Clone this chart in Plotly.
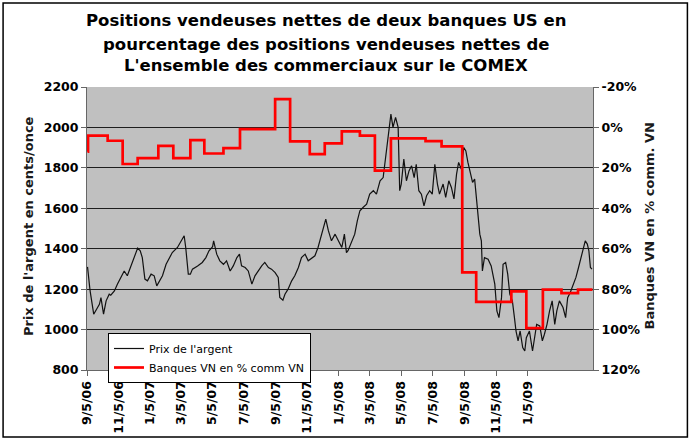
import pandas as pd
import plotly.graph_objects as go

# ---- data (days since 5 Sep 2006) ----
START = "2006-09-05"
price_days = [1, 6, 13, 17, 24, 27, 32, 37, 43, 46, 53, 59, 66, 72, 78, 85, 91, 98, 103, 107,
              112, 117, 124, 130, 135, 140, 146, 153, 159, 165, 175, 183, 188, 191, 196, 200,
              204, 214, 223, 230, 236, 243, 245, 251, 257, 264, 270, 277, 283, 290, 295, 299,
              306, 312, 319, 325, 331, 338, 344, 351, 357, 364, 370, 373, 379, 383, 389, 396,
              402, 409, 415, 422, 428, 435, 441, 447, 452, 458, 462, 467, 473, 480, 486, 493,
              498, 502, 505, 512, 518, 523, 528, 534, 541, 547, 554, 560, 567, 573, 579, 584,
              588, 592, 597, 602, 605, 608, 613, 618, 623, 628, 633, 637, 642, 647, 652, 657,
              663, 668, 673, 678, 682, 689, 694, 700, 705, 710, 715, 719, 724, 729, 733, 737,
              742, 746, 750, 753, 756, 760, 763, 765, 769, 776, 782, 789, 793, 797, 802, 805,
              810, 814, 818, 823, 827, 830, 834, 838, 843, 847, 850, 856, 862, 866, 870, 876,
              881, 885, 890, 895, 900, 905, 909, 914, 921, 926, 930, 935, 941, 946, 951, 956,
              961, 964, 968, 971, 974, 977]
price_values = [1310, 1191, 1076, 1092, 1125, 1158, 1076, 1142, 1175, 1170, 1191, 1225, 1258, 1290,
                1266, 1315, 1356, 1403, 1390, 1356, 1250, 1241, 1274, 1266, 1216, 1241, 1266, 1323,
                1356, 1381, 1406, 1439, 1464, 1406, 1274, 1274, 1299, 1315, 1332, 1356, 1390, 1410,
                1439, 1373, 1340, 1323, 1340, 1290, 1315, 1356, 1373, 1315, 1307, 1290, 1225, 1266,
                1290, 1315, 1332, 1307, 1299, 1282, 1258, 1159, 1145, 1175, 1200, 1241, 1266, 1307,
                1356, 1373, 1340, 1356, 1365, 1406, 1456, 1505, 1546, 1489, 1439, 1472, 1439, 1406,
                1472, 1381, 1390, 1439, 1472, 1538, 1588, 1604, 1620, 1670, 1687, 1670, 1736, 1752,
                1884, 1983, 2066, 2000, 2050, 2000, 1687, 1720, 1843, 1736, 1785, 1810, 1752, 1818,
                1687, 1670, 1612, 1662, 1687, 1670, 1818, 1720, 1670, 1720, 1654, 1736, 1703, 1646,
                1769, 1827, 1794, 1901, 1884, 1827, 1769, 1728, 1744, 1654, 1588, 1472, 1439, 1290,
                1356, 1348, 1315, 1225, 1092, 1059, 1158, 1323, 1332, 1274, 1175, 1142, 1059, 993,
                944, 993, 911, 894, 960, 993, 894, 960, 1026, 1018, 944, 977, 1026, 1092, 1142, 1026,
                1092, 1142, 1109, 1059, 1158, 1183, 1225, 1258, 1307, 1356, 1406, 1439, 1423, 1390,
                1307, 1299]

bank_days = [1, 2, 40, 69, 98, 138, 167, 200, 227, 264, 296, 364, 393, 431, 460, 493, 528, 557,
             588, 655, 686, 726, 753, 821, 850, 882, 918, 950, 978]
bank_pct = [12, 4.1, 6.6, 18.1, 15.2, 9.1, 15.2, 6.3, 12.9, 10.2, 0.8, -14, 6.9, 13.2, 7.9, 2,
            4.1, 21.4, 5.4, 6.8, 9.4, 71.7, 86.3, 81.1, 99.3, 80.2, 82, 80.2, 80.2]

x_tick_dates = ["2006-09-05", "2006-11-05", "2007-01-05", "2007-03-05", "2007-05-05",
                "2007-07-05", "2007-09-05", "2007-11-05", "2008-01-05", "2008-03-05",
                "2008-05-05", "2008-07-05", "2008-09-05", "2008-11-05", "2009-01-05"]
x_tick_labels = ["9/5/06", "11/5/06", "1/5/07", "3/5/07", "5/5/07", "7/5/07", "9/5/07",
                 "11/5/07", "1/5/08", "3/5/08", "5/5/08", "7/5/08", "9/5/08", "11/5/08",
                 "1/5/09"]
y2_tick_vals = [-20, 0, 20, 40, 60, 80, 100, 120]
y2_tick_labels = ["-20%", "0%", "20%", "40%", "60%", "80%", "100%", "120%"]

title_lines = ["Positions vendeuses nettes de deux banques US en",
               "pourcentage des positions vendeuses nettes de",
               "L'ensemble des commerciaux sur le COMEX"]

# ---- build ----
t0 = pd.Timestamp(START)
price_dates = t0 + pd.to_timedelta(price_days, unit="D")
bank_dates = t0 + pd.to_timedelta(bank_days, unit="D")

FONT = "DejaVu Sans"

fig = go.Figure()
fig.add_trace(go.Scatter(x=price_dates, y=price_values, mode="lines", name="Prix de l'argent",
                         line=dict(color="#111111", width=1.2)))
fig.add_trace(go.Scatter(x=bank_dates, y=bank_pct, mode="lines", name="Banques VN en % comm VN",
                         yaxis="y2", line=dict(color="#FF0000", width=2.7, shape="hv")))

# geometry helpers (pixel -> paper)
L, R, T, B = 87, 593.5, 87, 370
W, H = R - L, B - T
px = lambda v: (v - L) / W
py = lambda v: (B - v) / H

tick_font = dict(family=FONT, size=12.5, color="black", weight="bold")

fig.update_layout(
    width=695, height=447,
    margin=dict(l=L, r=695 - R, t=T, b=447 - B),
    paper_bgcolor="white", plot_bgcolor="#C0C0C0",
    showlegend=True,
    legend=dict(x=px(108), y=py(333), xanchor="left", yanchor="top",
                bgcolor="white", bordercolor="black", borderwidth=1,
                font=dict(family=FONT, size=11, color="black"), tracegroupgap=0),
    xaxis=dict(type="date", range=["2006-09-05", "2009-05-11"],
               tickvals=pd.to_datetime(x_tick_dates), ticktext=x_tick_labels,
               tickangle=-90, ticks="outside", ticklen=5, tickcolor="#666",
               showline=True, linecolor="#666", linewidth=1, showgrid=False,
               tickfont=dict(family=FONT, size=12.5, color="black", weight="bold")),
    yaxis=dict(range=[800, 2200], dtick=200, ticks="outside", ticklen=5, tickcolor="#666",
               showline=True, linecolor="#666", linewidth=1,
               showgrid=True, gridcolor="#1e1e1e", gridwidth=1.3, zeroline=False,
               tickfont=tick_font),
    yaxis2=dict(range=[120, -20], tickvals=y2_tick_vals, ticktext=y2_tick_labels,
                overlaying="y", side="right",
                ticks="outside", ticklen=5, tickcolor="#666",
                showline=True, linecolor="#666", linewidth=1, showgrid=False, zeroline=False,
                tickfont=tick_font),
)

title_y = [20, 44, 66]
for line, yy in zip(title_lines, title_y):
    fig.add_annotation(text="<b>" + line + "</b>", xref="paper", yref="paper",
                       x=px(326), y=py(yy), xanchor="center", yanchor="middle",
                       showarrow=False, font=dict(family=FONT, size=16.5, color="black"))

fig.add_annotation(text="<b>Prix de l'argent en cents/once</b>", textangle=-90,
                   xref="paper", yref="paper", x=px(28), y=py(226),
                   xanchor="center", yanchor="middle", showarrow=False,
                   font=dict(family=FONT, size=13, color="#1a1a1a"))
fig.add_annotation(text="<b>Banques VN en % comm. VN</b>", textangle=-90,
                   xref="paper", yref="paper", x=px(650), y=py(226),
                   xanchor="center", yanchor="middle", showarrow=False,
                   font=dict(family=FONT, size=13, color="#1a1a1a"))

# outer frame
fig.add_shape(type="rect", xref="paper", yref="paper",
              x0=px(3), x1=px(688), y0=py(437), y1=py(3),
              line=dict(color="black", width=1.5), fillcolor="rgba(0,0,0,0)", layer="above")

fig.write_html("out.html", config={"displayModeBar": False},
               post_script="document.body.style.margin='0';")
